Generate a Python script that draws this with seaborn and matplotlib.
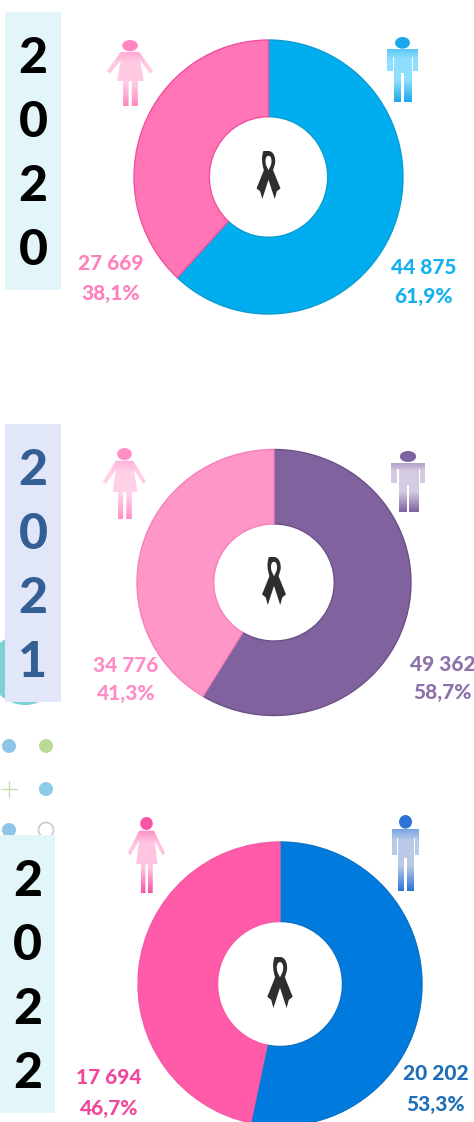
import numpy as np
import matplotlib
matplotlib.use("Agg")
import matplotlib.pyplot as plt
import seaborn as sns
from matplotlib.patches import Circle, Ellipse, Polygon, Rectangle, PathPatch
from matplotlib.path import Path
from matplotlib.colors import LinearSegmentedColormap

years = ["2020", "2021", "2022"]
male_counts = [44875, 49362, 20202]
female_counts = [27669, 34776, 17694]
male_pct = ["61,9%", "58,7%", "53,3%"]
female_pct = ["38,1%", "41,3%", "46,7%"]

male_colors = ["#00AEEF", "#80629E", "#007BDD"]
female_colors = ["#FF75B5", "#FF96C8", "#FF5BA9"]
male_edges = ["#0E9CCF", "#6B5088", "#0B72C8"]
female_edges = ["#F2509E", "#F77FBB", "#F75AA6"]
male_text = ["#13B2EE", "#8C72A8", "#1F6FB8"]
female_text = ["#FF80BD", "#FF8CC6", "#F0489C"]
year_text = ["#000000", "#335F94", "#000000"]
panel_colors = ["#E2F6F9", "#E1E7F8", "#E2F6F9"]

W, H = 474, 1122

# layout in picture pixels
donut_box = [(268.5, 177, 134.5, 137), (274, 582.5, 137, 133), (280, 984, 142, 142)]
panel_box = [(5, 12, 56, 278), (5, 424, 56, 278), (0, 835, 55, 278)]
digit_y = [[55, 119, 183, 247], [467, 531, 595, 659], [878, 942, 1006, 1070]]
female_label = [(111, 263, 293), (126, 665, 693), (109, 1078, 1108)]
male_label = [(424, 267, 296), (443, 664, 692), (436, 1074, 1104)]
female_icon = [(107, 40, 46, 66), (103, 448, 43, 71), (128, 817, 37, 76)]
male_icon = [(387, 37, 31, 65), (391, 451, 34, 61), (392, 815, 27, 76)]
male_icon_cols = [("#1BA8EA", "#8FDFFF"), ("#7D63A0", "#D5CBE3"), ("#2E74D8", "#B9CBE8")]
female_icon_cols = [("#FF86C0", "#FFC9E2"), ("#FF90C6", "#FFD0E8"), ("#F754A6", "#FFC4E1")]
ribbon_box = [(268.5, 151, 48), (274, 557, 48), (280, 957, 51)]

sns.set_theme(style="white")
plt.rcParams["font.family"] = ["Lato", "DejaVu Sans"]

fig = plt.figure(figsize=(W / 100, H / 100), dpi=100)
bg = fig.add_axes([0, 0, 1, 1])
bg.set_xlim(0, W)
bg.set_ylim(H, 0)
bg.axis("off")

# leftovers of the slide behind the 2021/2022 panels
bg.add_patch(Circle((25, 669), 36, color="#7FD0D2", lw=0))
bg.add_patch(Circle((9, 746), 7, color="#8EC6E8", lw=0))
bg.add_patch(Circle((46, 746), 7, color="#B8DA92", lw=0))
bg.add_patch(Circle((46, 789), 7, color="#8CCBE8", lw=0))
bg.plot([1, 17], [789, 789], color="#C8DDB4", lw=1)
bg.plot([9, 9], [781, 797], color="#C8DDB4", lw=1)
bg.add_patch(Circle((9, 830), 7, color="#8EC6E8", lw=0))
bg.add_patch(Circle((46, 830), 7.5, fc="white", ec="#C4CED2", lw=1.2))

for i in range(3):
    x, y, w, h = panel_box[i]
    bg.add_patch(Rectangle((x, y), w, h, color=panel_colors[i], lw=0))
    for d, dy in zip(years[i], digit_y[i]):
        bg.text(x + w / 2, dy + 3, d, ha="center", va="center", fontsize=36,
                fontweight="black", color=year_text[i])


def person(ax, box, top, mid, kind):
    x, y, w, h = box
    if kind == "f":
        pts = [(.30, .18), (.70, .18), (1.0, .47), (.94, .51), (.72, .31), (.80, .62),
               (.67, .62), (.67, 1), (.54, 1), (.54, .62), (.47, .62), (.47, 1),
               (.35, 1), (.35, .62), (.22, .62), (.30, .31), (.06, .51), (0, .47)]
        head = (.5, .085, .34, .17)
    else:
        pts = [(0, .19), (1, .19), (1, .53), (.84, .53), (.84, .30), (.81, .30), (.81, 1),
               (.54, 1), (.54, .56), (.46, .56), (.46, 1), (.24, 1), (.24, .30),
               (.19, .30), (.19, .53), (0, .53)]
        head = (.5, .09, .48, .18)
    cmap = LinearSegmentedColormap.from_list("fade", [top, mid, mid, top])
    grad = np.linspace(0, 1, 200).reshape(-1, 1)
    im = ax.imshow(grad, extent=(x, x + w, y + h, y), cmap=cmap, aspect="auto", zorder=3)
    body = Polygon([(x + a * w, y + b * h) for a, b in pts], fc="none", ec="none")
    ax.add_patch(body)
    im.set_clip_path(body)
    ax.add_patch(Ellipse((x + head[0] * w, y + head[1] * h), head[2] * w, head[3] * h,
                         color=top, lw=0, zorder=4))


def ribbon(ax, box):
    cx, y0, h = box
    verts = [(0, 0), (.22, 0), (.33, .14), (.28, .27), (.20, .40), (.52, .78), (.36, .84),
             (.27, 1), (0, .60), (-.27, 1), (-.36, .84), (-.52, .78), (-.20, .40), (-.28, .27),
             (-.33, .14), (-.22, 0), (0, 0), (0, 0),
             (0, .10), (-.14, .10), (-.16, .22), (-.10, .30), (0, .40), (.10, .30),
             (.16, .22), (.14, .10), (0, .10), (0, .10)]
    codes = [Path.MOVETO, Path.CURVE4, Path.CURVE4, Path.CURVE4] + [Path.LINETO] * 9 + \
            [Path.CURVE4] * 3 + [Path.LINETO, Path.CLOSEPOLY] + \
            [Path.MOVETO, Path.CURVE4, Path.CURVE4, Path.CURVE4, Path.LINETO, Path.LINETO] + \
            [Path.CURVE4] * 3 + [Path.CLOSEPOLY]
    pts = [(cx + a * h * 0.48, y0 + b * h) for a, b in verts]
    ax.add_patch(PathPatch(Path(pts, codes), fc="#2E2E2E", ec="none", zorder=4))


for i in range(3):
    cx, cy, rx, ry = donut_box[i]
    ax = fig.add_axes([(cx - rx) / W, 1 - (cy + ry) / H, 2 * rx / W, 2 * ry / H])
    ax.pie([male_counts[i], female_counts[i]], colors=[male_colors[i], female_colors[i]],
           startangle=90, counterclock=False, radius=1,
           wedgeprops=dict(width=0.56, linewidth=1))
    ax.patches[0].set_edgecolor(male_edges[i])
    ax.patches[1].set_edgecolor(female_edges[i])
    ax.set_aspect("auto")
    ax.set_xlim(-1, 1)
    ax.set_ylim(-1, 1)
    sns.despine(ax=ax, left=True, bottom=True)

top = fig.add_axes([0, 0, 1, 1], zorder=5)
top.set_xlim(0, W)
top.set_ylim(H, 0)
top.axis("off")
top.patch.set_alpha(0)

for i in range(3):
    person(top, female_icon[i], *female_icon_cols[i], "f")
    person(top, male_icon[i], *male_icon_cols[i], "m")
    ribbon(top, ribbon_box[i])
    top.set_xlim(0, W)
    top.set_ylim(H, 0)

    fx, fy1, fy2 = female_label[i]
    top.text(fx, fy1, f"{female_counts[i]:,}".replace(",", " "), ha="center", va="center",
             fontsize=15, fontweight="black", color=female_text[i])
    top.text(fx, fy2, female_pct[i], ha="center", va="center", fontsize=15,
             fontweight="black", color=female_text[i])
    mx, my1, my2 = male_label[i]
    top.text(mx, my1, f"{male_counts[i]:,}".replace(",", " "), ha="center", va="center",
             fontsize=15, fontweight="black", color=male_text[i])
    top.text(mx, my2, male_pct[i], ha="center", va="center", fontsize=15,
             fontweight="black", color=male_text[i])

fig.savefig("out.png", dpi=100)
